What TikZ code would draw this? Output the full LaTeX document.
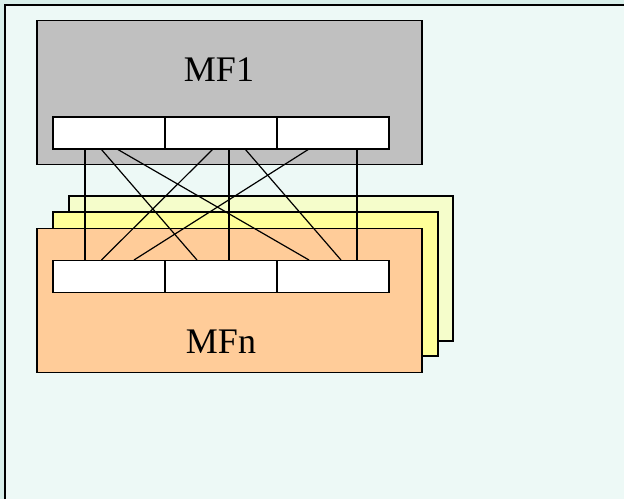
\documentclass[tikz,border=0pt]{standalone}
\usepackage{fontspec}
\setmainfont{Liberation Serif}
\begin{document}
\definecolor{bgc}{HTML}{EDF9F6}
\definecolor{edgec}{HTML}{D8EFEA}
\definecolor{grayc}{HTML}{C0C0C0}
\definecolor{orangec}{HTML}{FFCC99}
\definecolor{yellowc}{HTML}{FFFF99}
\definecolor{paleyc}{HTML}{F5FDCB}
\begin{tikzpicture}[x=1pt,y=-1pt,
  box/.style={draw=black,line width=1.5pt,inner sep=0pt,outer sep=0pt,anchor=north west},
  port/.style={draw=black,fill=white,line width=1.5pt,minimum width=112pt,minimum height=32pt,inner sep=0pt,outer sep=0pt,anchor=north west},
  wire/.style={draw=black,line width=1.2pt},
  lbl/.style={font=\fontsize{36}{42}\selectfont,inner sep=0pt}]
\fill[edgec] (0,0) rectangle (624,499);
\fill[bgc] (5,5) rectangle (624,499);
\useasboundingbox (0,0) rectangle (624,499);
\draw[line width=1.8pt] (5,499) -- (5,5) -- (624,5);
% MF1
\node[box,fill=grayc,minimum width=385pt,minimum height=144pt] (mf1) at (37,20.5) {};
\node[lbl] (t1) at (219,70) {MF1};
\node[port] (a1) at (53,117) {};
\node[port] (a2) at (165,117) {};
\node[port] (a3) at (277,117) {};
% stacked MFn
\node[box,fill=paleyc,minimum width=384pt,minimum height=145pt] (mf3) at (69,196) {};
\node[box,fill=yellowc,minimum width=385pt,minimum height=144pt] (mf2) at (53,212) {};
\node[box,fill=orangec,minimum width=385pt,minimum height=144pt] (mfn) at (37,228.5) {};
\node[lbl] (tn) at (221,342) {MFn};
\node[port] (b1) at (53,260.5) {};
\node[port] (b2) at (165,260.5) {};
\node[port] (b3) at (277,260.5) {};
% connection points
\coordinate (u1) at (85,149); \coordinate (u2) at (101,149); \coordinate (u3) at (117,149);
\coordinate (u4) at (213,149); \coordinate (u5) at (229,149); \coordinate (u6) at (245,149);
\coordinate (u7) at (309,149); \coordinate (u8) at (357,149);
\coordinate (l1) at (85,260); \coordinate (l2) at (101.5,260); \coordinate (l3) at (134,260);
\coordinate (l4) at (197,260); \coordinate (l5) at (229,260); \coordinate (l6) at (309,260);
\coordinate (l7) at (341,260); \coordinate (l8) at (357,260);
\draw[wire] (u1) -- (l1);
\draw[wire] (u5) -- (l5);
\draw[wire] (u8) -- (l8);
\draw[wire] (u2) -- (l4);
\draw[wire] (u3) -- (l6);
\draw[wire] (u4) -- (l2);
\draw[wire] (u6) -- (l7);
\draw[wire] (u7) -- (l3);
\end{tikzpicture}
\end{document}
